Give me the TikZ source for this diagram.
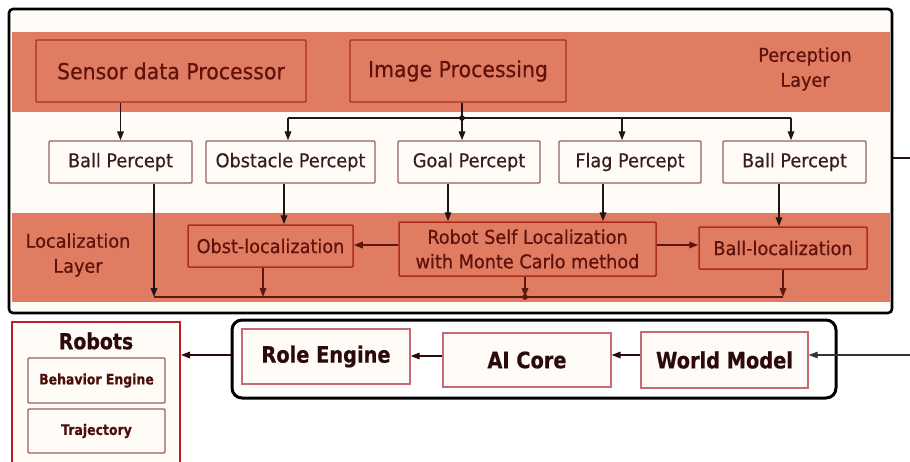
\documentclass[tikz,border=0pt]{standalone}
\usepackage{fontspec}
\setmainfont{DejaVu Sans}
\newfontfamily\tf[FakeStretch=0.93,FakeBold=0.5]{DejaVu Sans}
\newfontfamily\bff[FakeStretch=0.86,FakeBold=0.6]{DejaVu Sans}
\usetikzlibrary{arrows.meta,positioning,fit}
\definecolor{band}{RGB}{224,124,98}
\definecolor{bandbox}{RGB}{172,45,30}
\definecolor{bandtext}{RGB}{95,18,12}
\definecolor{percline}{RGB}{150,95,95}
\definecolor{perctext}{RGB}{55,30,30}
\definecolor{wline}{RGB}{35,20,20}
\definecolor{bline}{RGB}{95,22,12}
\definecolor{cream}{RGB}{255,251,246}
\definecolor{botline}{RGB}{200,105,118}
\definecolor{botext}{RGB}{45,10,10}
\definecolor{robred}{RGB}{190,30,40}
\tikzset{
  arr/.style={-{Triangle[length=9pt,width=6.5pt]}},
  bandnode/.style={draw=bandbox, fill=band, line width=1.4pt, inner sep=0pt,
    text=bandtext, align=center, rounded corners=1pt},
  bigtext/.style={font=\tf\fontsize{22}{26}\selectfont},
  smalltext/.style={font=\tf\fontsize{19}{25}\selectfont},
  percnode/.style={draw=percline, fill=cream, line width=1.3pt, inner sep=0pt,
    text=perctext, smalltext, rounded corners=1pt},
  locnode/.style={bandnode, smalltext, line width=1.5pt},
  botnode/.style={draw=botline, fill=cream, line width=1.2pt, inner sep=0pt,
    text=botext, font=\bff\bfseries\fontsize{22.5}{26}\selectfont},
  robnode/.style={draw=percline, fill=cream, line width=1.3pt, inner sep=0pt,
    text=bandtext!80!black, font=\bff\bfseries\fontsize{14.5}{17}\selectfont, rounded corners=1pt},
  wl/.style={draw=wline, line width=1.7pt},
  bl/.style={draw=bline, line width=1.8pt},
  layertext/.style={smalltext, text=bandtext, align=center}
}
\begin{document}
\begin{tikzpicture}[x=1pt,y=-1pt]
\useasboundingbox (0,0) rectangle (910,461);
\fill[white] (0,0) rectangle (910,461);
% outer frame
\node (frame) [draw=black, fill=cream, line width=2.6pt, rounded corners=4pt,
  minimum width=883pt, minimum height=304pt, inner sep=0pt] at (450.5,161) {};
% bands
\fill[band] (12,32) rectangle (890,112);
\fill[band] (12,213) rectangle (890,302);
% perception layer boxes
\node (sensor) [bandnode, bigtext, minimum width=270pt, minimum height=62pt] at (171,71) {Sensor data Processor};
\node (image) [bandnode, bigtext, minimum width=216pt, minimum height=62pt] at (458,71) {Image Processing};
\node (plabel) [layertext] at (805,69) {Perception\\Layer};
% percepts
\node (bp1) [percnode, minimum width=143pt, minimum height=42pt] at (120.5,162) {Ball Percept};
\node (obs) [percnode, minimum width=169pt, minimum height=42pt] at (290.5,162) {Obstacle Percept};
\node (goal) [percnode, minimum width=142pt, minimum height=42pt] at (469,162) {Goal Percept};
\node (flag) [percnode, minimum width=142pt, minimum height=42pt] at (630,162) {Flag Percept};
\node (bp2) [percnode, minimum width=143pt, minimum height=42pt] at (794.5,162) {Ball Percept};
% localization layer
\node (llabel) [layertext] at (78,255) {Localization\\Layer};
\node (obsloc) [locnode, minimum width=165pt, minimum height=42pt] at (270.5,246) {Obst-localization};
\node (rsl) [locnode, minimum width=257pt, minimum height=54pt, font=\tf\fontsize{19}{24.5}\selectfont] at (527.5,249) {Robot Self Localization\\with Monte Carlo method};
\node (ballloc) [locnode, minimum width=168pt, minimum height=42pt] at (783,248) {Ball-localization};
% perception connectors
\draw[wl,arr] (sensor.south -| bp1.north) -- (bp1.north);
\coordinate (ib) at (462,118);
\coordinate (b1) at (288,118);
\coordinate (b2) at (622,118);
\coordinate (b3) at (791,118);
\draw[wl] (image.south -| ib) -- (ib);
\draw[wl] (b1) -- (b3);
\fill[wline] (ib) circle (2.8pt);
\draw[wl,arr] (b1) -- (b1 |- obs.north);
\draw[wl,arr] (ib) -- (ib |- goal.north);
\draw[wl,arr] (b2) -- (b2 |- flag.north);
\draw[wl,arr] (b3) -- (b3 |- bp2.north);
% percept -> localization
\coordinate (d1) at (284,0);
\coordinate (d2) at (448,0);
\coordinate (d3) at (603,0);
\coordinate (d4) at (779,0);
\draw[wl,arr] (d1 |- obs.south) -- (d1 |- obsloc.north);
\draw[wl,arr] (d2 |- goal.south) -- (d2 |- rsl.north);
\draw[wl,arr] (d3 |- flag.south) -- (d3 |- rsl.north);
\draw[wl,arr] (d4 |- bp2.south) -- (d4 |- ballloc.north);
\coordinate (h) at (0,245);
\draw[bl,arr] (rsl.west |- h) -- (obsloc.east |- h);
\draw[bl,arr] (rsl.east |- h) -- (ballloc.west |- h);
% bottom bus
\coordinate (bus1) at (154,297);
\coordinate (bus2) at (263,297);
\coordinate (bus3) at (525,297);
\coordinate (bus4) at (783,297);
\draw[bl] (bus1) -- (bus4);
\draw[wl,arr] (bus1 |- bp1.south) -- (bus1);
\draw[bl,arr] (bus2 |- obsloc.south) -- (bus2);
\draw[bl,arr] (bus3 |- rsl.south) -- (bus3);
\draw[bl,arr] (bus4 |- ballloc.south) -- (bus4);
\fill[bline] (bus3) circle (2.8pt);
% exit to the right
\coordinate (exit) at (910,158);
\draw[wl] (frame.east |- exit) -- (exit);
% bottom group
\node (group) [draw=black, line width=3pt, rounded corners=10pt, fill=white,
  minimum width=604pt, minimum height=78pt, inner sep=0pt] at (534,359) {};
\node (role) [botnode, minimum width=168pt, minimum height=55pt] at (326,356.5) {Role Engine};
\node (ai) [botnode, minimum width=168pt, minimum height=54pt] at (527,360) {AI Core};
\node (world) [botnode, minimum width=167pt, minimum height=56pt] at (724.5,360) {World Model};
\coordinate (entry) at (910,355);
\draw[draw=black!80, line width=1.2pt, arr] (entry) -- (world.east |- entry);
\coordinate (h2) at (0,355);
\draw[draw=botext, line width=1.6pt, arr] (world.west |- h2) -- (ai.east |- h2);
\coordinate (h3) at (0,356);
\draw[draw=botext, line width=1.6pt, arr] (ai.west |- h3) -- (role.east |- h3);
% robots
\node (robots) [draw=robred, fill=cream, line width=2pt, minimum width=168pt,
  minimum height=156pt, inner sep=0pt] at (96,400) {};
\node (robtitle) [text=botext, font=\bff\bfseries\fontsize{22}{26}\selectfont] at (96,341) {Robots};
\node (behav) [robnode, minimum width=137pt, minimum height=45pt] at (96.5,380.5) {Behavior Engine};
\node (traj) [robnode, minimum width=137pt, minimum height=44pt] at (96.5,431) {Trajectory};
\draw[draw=botext, line width=1.6pt, arr] (group.west |- h2) -- (robots.east |- h2);
\end{tikzpicture}
\end{document}
